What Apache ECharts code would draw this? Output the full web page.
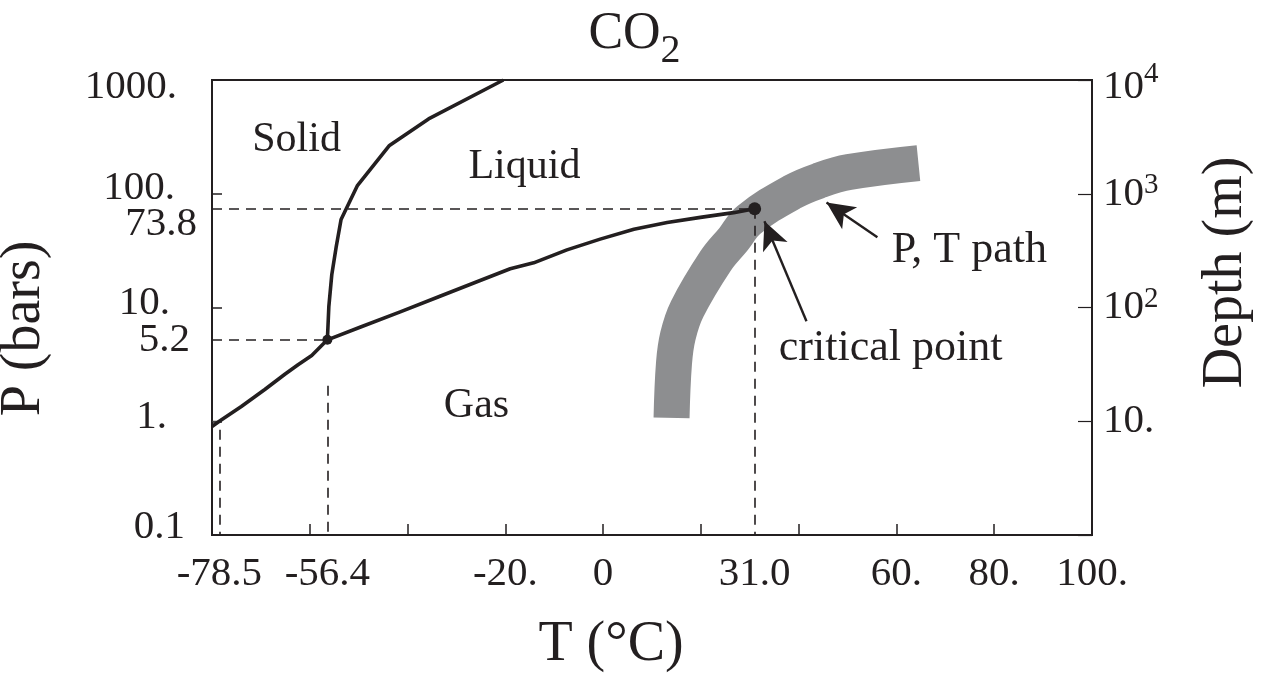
<!DOCTYPE html>
<html>
<head>
<meta charset="utf-8">
<script src="https://cdn.jsdelivr.net/npm/echarts@6/dist/echarts.min.js"></script>
<style>
  html, body { margin: 0; padding: 0; background: #ffffff; }
  #chart { width: 1269px; height: 673px; }
</style>
</head>
<body>
<div id="chart"></div>
<script>
// ---------------- Data (T in °C, P in bar) ----------------
const sublimationT = [-80, -78.5, -74.0, -69.2, -65.1, -62.4, -59.6, -56.4];
const sublimationP = [0.9, 1.0, 1.35, 1.90, 2.59, 3.14, 3.79, 5.2];

const vaporizationT = [-56.4, -49.6, -41.5, -33.5, -26.2, -19.0, -14.2, -7.4, -0.6, 6.3, 13.1, 19.9, 26.7, 31.0];
const vaporizationP = [5.2, 6.74, 9.16, 12.5, 16.6, 21.9, 24.7, 32.1, 39.9, 48.7, 55.8, 62.0, 68.2, 73.8];

const meltingT = [-56.4, -56.1, -55.5, -54.6, -53.6, -50.3, -43.7, -35.7, -20.4];
const meltingP = [5.2, 10.2, 19.4, 34.0, 59.4, 117, 266, 455, 1000];

const pathT = [14.0, 14.5, 15.3, 17.2, 23.0, 26.7, 29.8, 38.7, 44.5, 50.3, 64.5];
const pathP = [1.07, 3.25, 5.62, 9.70, 25.6, 40.0, 58.8, 103.6, 132, 155, 186];

const triplePoint = [-56.4, 5.2];
const criticalPoint = [31.0, 73.8];
const oneBarSublimation = [-78.5, 1.0];

// guide lines (dashed) and their labelled values
const markedTemps = [-78.5, -56.4, 31.0];
const markedTempLabels = ['-78.5', '-56.4', '31.0'];
const markedTempTopP = [0.84, 2.05, 73.8];
const markedPressures = [73.8, 5.2];
const markedPressureLabels = ['73.8', '5.2'];
const markedPressureEndT = [31.0, -56.4];

// axis tick labels
const tempTickLabels = { '-20': '-20.', '0': '0', '60': '60.', '80': '80.', '100': '100.' };
const pressureTickLabels = { '-1': '0.1', '0': '1.', '1': '10.', '2': '100.', '3': '1000.' };
const depthTickLabels = { '1': '10.', '2': '10', '3': '10', '4': '10' };
const depthTickExponents = { '2': '2', '3': '3', '4': '4' };

// annotations
const regionNames = ['Solid', 'Liquid', 'Gas'];
const regionT = [-62.7, -16.1, -25.9];
const regionP = [300, 172, 1.36];
const noteNames = ['P, T path', 'critical point'];
const noteT = [74.9, 58.8];
const noteP = [31.6, 4.40];

const arrowPTFrom = [56.1, 41.5];
const arrowPTTo = [45.7, 83.7];
const arrowCPFrom = [41.6, 7.57];
const arrowCPTo = [33.0, 57.3];

// ---------------- Styling ----------------
const INK = '#231f20';
const GREY = '#8d8e90';
const FONT = 'Liberation Serif';
const pairs = (xs, ys) => xs.map((x, i) => [x, ys[i]]);
const txt = (size, extra) => Object.assign({ fontSize: size, fontFamily: FONT, color: INK, fontWeight: 'normal' }, extra || {});

const leftRich = {
  d0: txt(41, { padding: [0, 12, 15, 0] }),
  d1: txt(41, { padding: [0, 30, 8, 0] }),
  d2: txt(41, { padding: [0, 27, 9, 0] }),
  d3: txt(41, { padding: [0, 22, 12, 0] }),
  d4: txt(41, { padding: [15, 20, 0, 0] })
};

const guideLabelRich = {
  hi: txt(41, { padding: [30, 0, 0, 0] }),
  lo: txt(41)
};

const guideLines = [];
markedPressures.forEach((p, i) => {
  guideLines.push([
    { coord: [-80, p], label: { show: true, position: 'start',
        formatter: '{' + (i === 0 ? 'hi' : 'lo') + '|' + markedPressureLabels[i] + '}',
        distance: i === 0 ? 15 : 22, rich: guideLabelRich } },
    { coord: [markedPressureEndT[i], p] }
  ]);
});
markedTemps.forEach((t, i) => {
  guideLines.push([
    { coord: [t, markedTempTopP[i]] },
    { coord: [t, 0.1], label: { show: true, position: 'end', formatter: markedTempLabels[i], distance: 19 } }
  ]);
});

const textLabel = size => ({
  show: true, position: [0, 0], align: 'center', verticalAlign: 'middle',
  formatter: p => p.name,
  fontSize: size, fontFamily: FONT, color: INK, opacity: 1,
  textBorderWidth: 0, textBorderColor: 'transparent'
});

const chart = echarts.init(document.getElementById('chart'), null, { renderer: 'canvas' });

const option = {
  animation: false,
  backgroundColor: '#ffffff',
  title: {
    text: '{b|CO}{s|2}',
    left: 'center',
    top: -3,
    padding: 0,
    textStyle: {
      fontWeight: 'normal',
      rich: {
        b: txt(52, { lineHeight: 56 }),
        s: txt(40, { padding: [34, 0, 0, 0] })
      }
    }
  },
  grid: {
    left: 212, right: 177, top: 80, bottom: 138,
    outerBoundsMode: 'none', containLabel: false,
    show: true, borderColor: INK, borderWidth: 2, backgroundColor: 'transparent'
  },
  xAxis: {
    type: 'value', min: -80, max: 100, interval: 20,
    axisLine: { show: false, onZero: false },
    splitLine: { show: false },
    axisTick: { inside: true, length: 11, lineStyle: { color: INK, width: 1.5 } },
    axisLabel: {
      margin: 19, fontSize: 41, fontFamily: FONT, color: INK,
      formatter: v => tempTickLabels[String(Math.round(v))] || ''
    },
    name: 'T (°C)', nameLocation: 'middle', nameGap: 82,
    nameTextStyle: txt(56, { padding: [0, 82, 0, 0] })
  },
  yAxis: [
    {
      type: 'log', logBase: 10, min: 0.1, max: 1000, position: 'left',
      axisLine: { show: false, onZero: false },
      splitLine: { show: false },
      axisTick: { inside: true, length: 10, lineStyle: { color: INK, width: 1.5 } },
      axisLabel: {
        margin: 15, fontSize: 41, fontFamily: FONT, color: INK,
        formatter: v => {
          const k = Math.round(Math.log10(v));
          const t = pressureTickLabels[String(k)];
          return t ? '{d' + (k + 1) + '|' + t + '}' : '';
        },
        rich: leftRich
      },
      name: 'P (bars)', nameLocation: 'middle', nameRotate: 90, nameGap: 160,
      nameTextStyle: txt(56, { padding: [0, 42, 0, 0] })
    },
    {
      type: 'log', logBase: 10, min: 1, max: 10000, position: 'right',
      axisLine: { show: false, onZero: false },
      splitLine: { show: false },
      axisTick: { inside: true, length: 14, lineStyle: { color: INK, width: 1.2 } },
      axisLabel: {
        margin: 11, fontSize: 41, fontFamily: FONT, color: INK,
        formatter: v => {
          const k = String(Math.round(Math.log10(v)));
          const base = depthTickLabels[k];
          if (!base) return '';
          const e = depthTickExponents[k];
          const top = k === '4';
          return '{' + (top ? 'bt' : 'b') + '|' + base + '}' +
            (e ? '{' + (top ? 'st' : 's') + '|' + e + '}' : '');
        },
        rich: {
          b: txt(41, { lineHeight: 46 }),
          s: txt(29, { lineHeight: 30, verticalAlign: 'top' }),
          bt: txt(41, { lineHeight: 46, padding: [14, 0, 0, 0] }),
          st: txt(29, { lineHeight: 30, verticalAlign: 'top', padding: [3, 0, 0, 0] })
        }
      },
      name: 'Depth (m)', nameLocation: 'middle', nameRotate: 90, nameGap: 106,
      nameTextStyle: txt(56, { padding: [0, 0, 0, 70] })
    }
  ],
  series: [
    {
      name: 'P, T path', type: 'line', data: pairs(pathT, pathP),
      symbol: 'none', smooth: 0.4, silent: true, z: 1,
      lineStyle: { color: GREY, width: 36, cap: 'butt', join: 'round' }
    },
    {
      name: 'guides', type: 'line', data: [], z: 3,
      markLine: {
        silent: true, symbol: ['none', 'none'], animation: false,
        label: { show: false, fontSize: 41, fontFamily: FONT, color: INK },
        lineStyle: { type: [10, 7], color: INK, width: 1.6 },
        emphasis: { disabled: true },
        data: guideLines
      }
    },
    {
      name: '1 bar', type: 'line', data: [[-80, 1.0], oneBarSublimation],
      symbol: 'none', silent: true, z: 3,
      lineStyle: { color: '#444', width: 1 }
    },
    {
      name: 'sublimation', type: 'line', data: pairs(sublimationT, sublimationP),
      symbol: 'none', silent: true, z: 4,
      lineStyle: { color: INK, width: 3.6, join: 'round' }
    },
    {
      name: 'vaporization', type: 'line', data: pairs(vaporizationT, vaporizationP),
      symbol: 'none', silent: true, z: 4,
      lineStyle: { color: INK, width: 3.6, join: 'round' }
    },
    {
      name: 'melting', type: 'line', data: pairs(meltingT, meltingP),
      symbol: 'none', silent: true, z: 4,
      lineStyle: { color: INK, width: 3.6, join: 'round' }
    },
    {
      name: 'points', type: 'scatter', silent: true, z: 5,
      itemStyle: { color: INK, opacity: 1 },
      data: [
        { value: triplePoint, symbolSize: 10 },
        { value: criticalPoint, symbolSize: 13 }
      ]
    },
    {
      name: 'arrows', type: 'line', data: [], z: 5,
      markLine: {
        silent: true, symbol: ['none', 'none'], animation: false,
        label: { show: false },
        lineStyle: { type: 'solid', color: INK, width: 2.4 },
        emphasis: { disabled: true },
        data: [
          [{ coord: arrowPTFrom }, { coord: arrowPTTo, symbol: 'arrow', symbolSize: [20, 28] }],
          [{ coord: arrowCPFrom }, { coord: arrowCPTo, symbol: 'arrow', symbolSize: [20, 28] }]
        ]
      }
    },
    {
      name: 'regions', type: 'scatter', silent: true, z: 6,
      symbolSize: 0,
      itemStyle: { color: INK, opacity: 1 },
      label: textLabel(42),
      data: regionNames.map((n, i) => ({ name: n, value: [regionT[i], regionP[i]] }))
    },
    {
      name: 'notes', type: 'scatter', silent: true, z: 6,
      symbolSize: 0,
      itemStyle: { color: INK, opacity: 1 },
      label: textLabel(44),
      data: noteNames.map((n, i) => ({ name: n, value: [noteT[i], noteP[i]] }))
    }
  ]
};

chart.setOption(option);
</script>
</body>
</html>
